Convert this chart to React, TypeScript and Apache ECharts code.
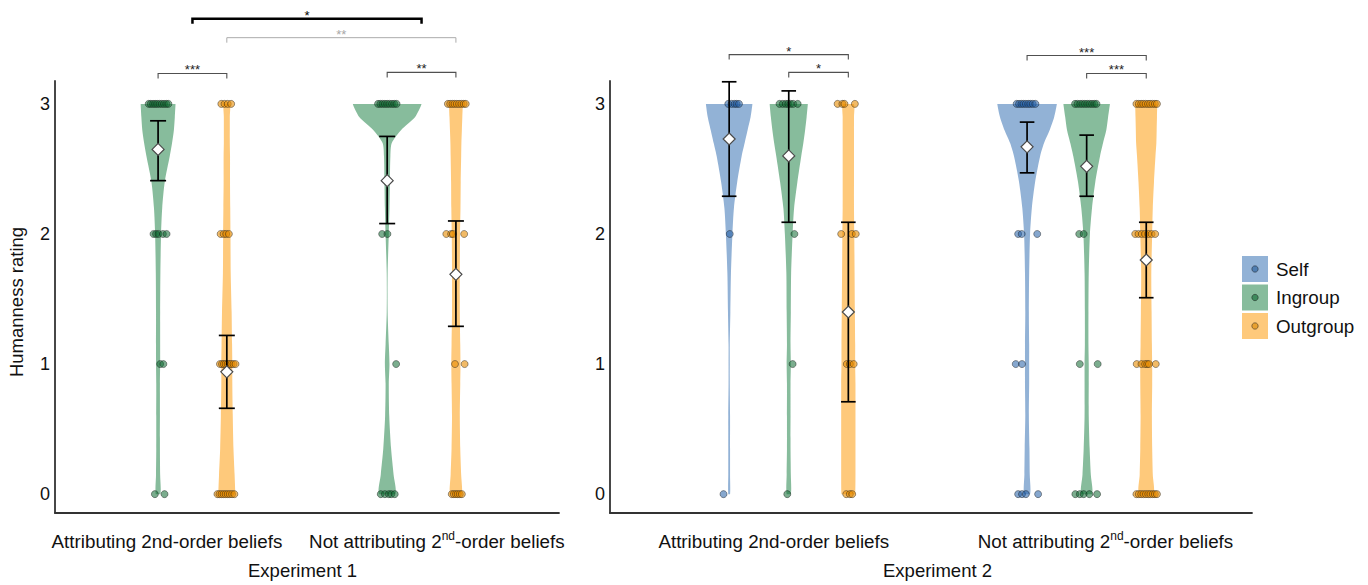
import React, { useEffect, useRef } from "react";
import * as echarts from "echarts";

const FONT = "'Liberation Sans', Arial, Helvetica, sans-serif";

// ---------- categories / labels ----------
const RATING_TICKS = [0, 1, 2, 3];
const CONDITIONS = ["Attributing 2nd-order beliefs", "Not attributing 2nd-order beliefs"];
const EXPERIMENTS = ["Experiment 1", "Experiment 2"];
const GROUPS = ["Self", "Ingroup", "Outgroup"];
const Y_TITLE = "Humanness rating";

// rating levels at which violin half-widths were read
const DENSITY_LEVELS = [0, 0.15, 0.35, 0.6, 0.85, 1, 1.15, 1.4, 1.7, 2, 2.2, 2.4, 2.6, 2.7, 2.8, 2.9, 3];

// ---------- Experiment 1: violin half-widths (x-axis units) ----------
const e1AttIngroupDensity = [0.010, 0.009, 0.008, 0.008, 0.008, 0.009, 0.009, 0.009, 0.010, 0.013, 0.018, 0.029, 0.051, 0.061, 0.069, 0.073, 0.076];
const e1AttOutgroupDensity = [0.037, 0.034, 0.029, 0.026, 0.024, 0.024, 0.023, 0.021, 0.017, 0.016, 0.015, 0.014, 0.014, 0.013, 0.013, 0.013, 0.013];
const e1NotIngroupDensity = [0.035, 0.028, 0.017, 0.009, 0.007, 0.010, 0.007, 0.002, 0.002, 0.007, 0.010, 0.012, 0.014, 0.020, 0.061, 0.122, 0.150];
const e1NotOutgroupDensity = [0.026, 0.023, 0.019, 0.017, 0.019, 0.020, 0.019, 0.017, 0.017, 0.018, 0.020, 0.021, 0.023, 0.024, 0.026, 0.028, 0.030];

// ---------- Experiment 2: violin half-widths ----------
const e2AttSelfDensity = [0.003, 0.003, 0.003, 0.003, 0.002, 0.002, 0.002, 0.004, 0.006, 0.011, 0.016, 0.027, 0.042, 0.052, 0.062, 0.072, 0.078];
const e2AttIngroupDensity = [0.007, 0.007, 0.006, 0.006, 0.006, 0.007, 0.006, 0.007, 0.008, 0.013, 0.018, 0.029, 0.042, 0.049, 0.055, 0.060, 0.064];
const e2AttOutgroupDensity = [0.023, 0.024, 0.024, 0.024, 0.024, 0.023, 0.023, 0.022, 0.021, 0.020, 0.019, 0.019, 0.019, 0.019, 0.019, 0.019, 0.018];
const e2NotSelfDensity = [0.010, 0.009, 0.008, 0.006, 0.007, 0.007, 0.007, 0.006, 0.007, 0.010, 0.016, 0.027, 0.044, 0.057, 0.076, 0.091, 0.100];
const e2NotIngroupDensity = [0.018, 0.014, 0.010, 0.007, 0.007, 0.007, 0.006, 0.006, 0.007, 0.011, 0.018, 0.029, 0.045, 0.055, 0.066, 0.072, 0.078];
const e2NotOutgroupDensity = [0.024, 0.022, 0.020, 0.019, 0.020, 0.020, 0.019, 0.018, 0.017, 0.020, 0.022, 0.026, 0.031, 0.034, 0.035, 0.036, 0.037];

// ---------- individual ratings: horizontal jitter per rating 0,1,2,3 ----------
const e1AttIngroupJitter = [
  [-0.014, 0.028],
  [0.009, 0.023],
  [-0.020, -0.009, 0.002, 0.021, 0.037],
  [-0.041, -0.032, -0.022, -0.013, -0.004, 0.006, 0.016, 0.026, 0.036, 0.045],
];
const e1AttOutgroupJitter = [
  [-0.041, -0.032, -0.023, -0.014, -0.005, 0.004, 0.013, 0.023, 0.033],
  [-0.030, -0.021, -0.013, -0.005, 0.004, 0.012, 0.020, 0.029, 0.038],
  [-0.027, -0.014, -0.003, 0.009],
  [-0.024, -0.010, 0.004, 0.019],
];
const e1NotIngroupJitter = [
  [-0.028, -0.010, 0.007, 0.018, 0.033],
  [0.039],
  [-0.022, 0.001],
  [-0.040, -0.030, -0.020, -0.010, 0.000, 0.010, 0.021, 0.031, 0.041],
];
const e1NotOutgroupJitter = [
  [-0.018, -0.009, 0.000, 0.008, 0.017, 0.026],
  [-0.004, 0.038],
  [-0.042, -0.021, -0.013, 0.036],
  [-0.035, -0.025, -0.015, -0.006, 0.004, 0.014, 0.024, 0.034, 0.043],
];
const e2AttSelfJitter = [[-0.019], [], [0.002], [-0.003, 0.008, 0.018, 0.025, 0.033]];
const e2AttIngroupJitter = [[-0.005], [0.013], [0.019], [-0.031, -0.020, -0.010, -0.002, 0.006, 0.015, 0.030]];
const e2AttOutgroupJitter = [[-0.007, 0.005, 0.013], [-0.005, 0.005, 0.018], [-0.024, 0.012, 0.025], [-0.036, -0.020, -0.013, 0.022]];
const e2NotSelfJitter = [
  [-0.030, -0.017, -0.004, 0.037],
  [-0.038, -0.017],
  [-0.030, -0.018, 0.034],
  [-0.035, -0.027, -0.019, -0.012, -0.004, 0.004, 0.011, 0.019, 0.028],
];
const e2NotIngroupJitter = [
  [-0.038, -0.023, -0.010, 0.009, 0.035],
  [-0.023, 0.037],
  [-0.025, -0.010],
  [-0.039, -0.031, -0.022, -0.014, -0.006, 0.002, 0.010, 0.018, 0.026, 0.033],
];
const e2NotOutgroupJitter = [
  [-0.033, -0.025, -0.017, -0.009, -0.001, 0.007, 0.014, 0.022, 0.029, 0.036],
  [-0.032, -0.016, -0.004, 0.003, 0.009, 0.032],
  [-0.037, -0.026, -0.015, -0.004, 0.007, 0.018, 0.030],
  [-0.033, -0.025, -0.017, -0.010, -0.002, 0.006, 0.013, 0.021, 0.029, 0.036],
];

// ---------- summary statistics: [mean, lower, upper] ----------
const e1AttIngroupStats = [2.65, 2.41, 2.87];
const e1AttOutgroupStats = [0.94, 0.66, 1.22];
const e1NotIngroupStats = [2.41, 2.08, 2.75];
const e1NotOutgroupStats = [1.69, 1.29, 2.1];
const e2AttSelfStats = [2.73, 2.29, 3.17];
const e2AttIngroupStats = [2.6, 2.09, 3.1];
const e2AttOutgroupStats = [1.4, 0.71, 2.09];
const e2NotSelfStats = [2.67, 2.47, 2.86];
const e2NotIngroupStats = [2.52, 2.29, 2.76];
const e2NotOutgroupStats = [1.8, 1.51, 2.09];

// ---------- significance brackets: [condA, groupA, condB, groupB, height, label, tone] ----------
const e1Brackets: any[] = [
  [0, "Ingroup", 0, "Outgroup", 3.234, "***", "dark"],
  [1, "Ingroup", 1, "Outgroup", 3.242, "**", "dark"],
  [0, null, 1, null, 3.655, "*", "strong"],
  [0, "Outgroup", 1, "Outgroup", 3.509, "**", "light"],
];
const e2Brackets: any[] = [
  [0, "Self", 0, "Outgroup", 3.379, "*", "dark"],
  [0, "Ingroup", 0, "Outgroup", 3.242, "*", "dark"],
  [1, "Self", 1, "Outgroup", 3.372, "***", "dark"],
  [1, "Ingroup", 1, "Outgroup", 3.234, "***", "dark"],
];

// ---------- styling ----------
const CONDITION_CENTERS = [1, 2];
const E1_OFFSETS: Record<string, number> = { Ingroup: -0.15, Outgroup: 0.15 };
const E2_OFFSETS: Record<string, number> = { Self: -0.2, Ingroup: 0, Outgroup: 0.2 };
const VIOLIN_COLORS: Record<string, string> = { Self: "#92b2d6", Ingroup: "#87bc9c", Outgroup: "#fec97b" };
const DOT_FILL: Record<string, string> = {
  Self: "rgba(35,95,165,0.55)",
  Ingroup: "rgba(15,105,50,0.55)",
  Outgroup: "rgba(232,140,0,0.6)",
};
const LEGEND_DOT: Record<string, string> = { Self: "#4f7db0", Ingroup: "#3e8a5c", Outgroup: "#e8a030" };
const BRACKET_TONES: Record<string, any> = {
  dark: { stroke: "#505050", width: 1.1, text: "#222" },
  strong: { stroke: "#000", width: 2.5, text: "#000" },
  light: { stroke: "#ababab", width: 1, text: "#a8a8a8" },
};
const AXIS_COLOR = "#333";
const TEXT_COLOR = "#111";

type Cell = { cond: number; group: string; density: number[]; jitter: number[][]; stats: number[] };

const e1Cells: Cell[] = [
  { cond: 0, group: "Ingroup", density: e1AttIngroupDensity, jitter: e1AttIngroupJitter, stats: e1AttIngroupStats },
  { cond: 0, group: "Outgroup", density: e1AttOutgroupDensity, jitter: e1AttOutgroupJitter, stats: e1AttOutgroupStats },
  { cond: 1, group: "Ingroup", density: e1NotIngroupDensity, jitter: e1NotIngroupJitter, stats: e1NotIngroupStats },
  { cond: 1, group: "Outgroup", density: e1NotOutgroupDensity, jitter: e1NotOutgroupJitter, stats: e1NotOutgroupStats },
];
const e2Cells: Cell[] = [
  { cond: 0, group: "Self", density: e2AttSelfDensity, jitter: e2AttSelfJitter, stats: e2AttSelfStats },
  { cond: 0, group: "Ingroup", density: e2AttIngroupDensity, jitter: e2AttIngroupJitter, stats: e2AttIngroupStats },
  { cond: 0, group: "Outgroup", density: e2AttOutgroupDensity, jitter: e2AttOutgroupJitter, stats: e2AttOutgroupStats },
  { cond: 1, group: "Self", density: e2NotSelfDensity, jitter: e2NotSelfJitter, stats: e2NotSelfStats },
  { cond: 1, group: "Ingroup", density: e2NotIngroupDensity, jitter: e2NotIngroupJitter, stats: e2NotIngroupStats },
  { cond: 1, group: "Outgroup", density: e2NotOutgroupDensity, jitter: e2NotOutgroupJitter, stats: e2NotOutgroupStats },
];

const X_MIN = 0.4;
const PANELS = [
  {
    cells: e1Cells, offsets: E1_OFFSETS, brackets: e1Brackets, groups: ["Ingroup", "Outgroup"],
    grid: { left: 55, top: 81, width: 504, height: 434 }, xMax: 2.6, whisker: 8,
    labelShiftPx: [-25.5, 15.3], namePad: [0, 9, 0, 0],
  },
  {
    cells: e2Cells, offsets: E2_OFFSETS, brackets: e2Brackets, groups: ["Self", "Ingroup", "Outgroup"],
    grid: { left: 610, top: 81, width: 642, height: 434 }, xMax: 2.555, whisker: 7.3,
    labelShiftPx: [-15, 18.8], namePad: [0, 0, 0, 13],
  },
];

function buildOption() {
  const series: any[] = [];
  PANELS.forEach((p, pi) => {
    const xOf = (cond: number, group: string | null) =>
      CONDITION_CENTERS[cond] + (group ? p.offsets[group] : 0);

    p.groups.forEach((g) => {
      const cells = p.cells.filter((c) => c.group === g);
      series.push({
        type: "custom",
        name: g,
        xAxisIndex: pi,
        yAxisIndex: pi,
        z: 1,
        silent: true,
        itemStyle: { color: VIOLIN_COLORS[g] },
        data: cells.map((c) => [xOf(c.cond, c.group), c.stats[0]]),
        renderItem: (params: any, api: any) => {
          const c = cells[params.dataIndex];
          const cx = xOf(c.cond, c.group);
          const right = DENSITY_LEVELS.map((lv, i) => api.coord([cx + c.density[i], lv]));
          const left = DENSITY_LEVELS.map((lv, i) => api.coord([cx - c.density[i], lv])).reverse();
          const pts = right.concat(left);
          return {
            type: "polygon",
            shape: { points: pts, smooth: 0.25, smoothConstraint: [pts[0], pts[0]] },
            style: { fill: VIOLIN_COLORS[g], stroke: null },
          };
        },
      });
      const dots: number[][] = [];
      cells.forEach((c) => {
        c.jitter.forEach((row, rating) => {
          row.forEach((j) => dots.push([xOf(c.cond, c.group) + j, RATING_TICKS[rating]]));
        });
      });
      series.push({
        type: "scatter",
        name: g + " ratings",
        xAxisIndex: pi,
        yAxisIndex: pi,
        z: 2,
        silent: true,
        symbol: "circle",
        symbolSize: 7,
        itemStyle: { color: DOT_FILL[g], borderColor: "rgba(20,20,20,0.6)", borderWidth: 0.7, opacity: 1 },
        data: dots,
      });
    });

    // mean diamonds with error bars
    series.push({
      type: "custom",
      name: "summary " + pi,
      xAxisIndex: pi,
      yAxisIndex: pi,
      z: 3,
      silent: true,
      data: p.cells.map((c) => [xOf(c.cond, c.group), c.stats[0], c.stats[1], c.stats[2]]),
      renderItem: (params: any, api: any) => {
        const x = api.value(0);
        const m = api.coord([x, api.value(1)]);
        const lo = api.coord([x, api.value(2)]);
        const hi = api.coord([x, api.value(3)]);
        const w = p.whisker;
        const d = 6;
        const ls = { stroke: "#000", lineWidth: 1.7 };
        return {
          type: "group",
          children: [
            { type: "line", shape: { x1: m[0], y1: hi[1], x2: m[0], y2: lo[1] }, style: ls },
            { type: "line", shape: { x1: m[0] - w, y1: hi[1], x2: m[0] + w, y2: hi[1] }, style: ls },
            { type: "line", shape: { x1: m[0] - w, y1: lo[1], x2: m[0] + w, y2: lo[1] }, style: ls },
            {
              type: "polygon",
              shape: { points: [[m[0], m[1] - d], [m[0] + d, m[1]], [m[0], m[1] + d], [m[0] - d, m[1]]] },
              style: { fill: "#fff", stroke: "#4a4a4a", lineWidth: 1.2 },
            },
          ],
        };
      },
    });

    // significance brackets
    series.push({
      type: "custom",
      name: "brackets " + pi,
      xAxisIndex: pi,
      yAxisIndex: pi,
      z: 4,
      silent: true,
      clip: false,
      data: p.brackets.map((b) => [xOf(b[0], b[1]), xOf(b[2], b[3]), b[4]]),
      renderItem: (params: any, api: any) => {
        const b = p.brackets[params.dataIndex];
        const tone = BRACKET_TONES[b[6]];
        const a = api.coord([api.value(0), api.value(2)]);
        const e = api.coord([api.value(1), api.value(2)]);
        const tick = 5;
        return {
          type: "group",
          children: [
            {
              type: "polyline",
              shape: { points: [[a[0], a[1] + tick], [a[0], a[1]], [e[0], e[1]], [e[0], e[1] + tick]] },
              style: { stroke: tone.stroke, lineWidth: tone.width, fill: null },
            },
            {
              type: "text",
              style: {
                text: b[5],
                x: (a[0] + e[0]) / 2,
                y: a[1] - 3.5,
                align: "center",
                verticalAlign: "middle",
                fontSize: 13,
                fontFamily: FONT,
                fill: tone.text,
              },
            },
          ],
        };
      },
    });
  });

  const xLabelRich = {
    a: { fontSize: 18.8, lineHeight: 22, fontFamily: FONT, color: TEXT_COLOR },
    s: { fontSize: 12, lineHeight: 15, fontFamily: FONT, color: TEXT_COLOR, verticalAlign: "top" },
  };
  const xLabelFormatter = (v: number) => {
    if (v < 1.5) return "{a|" + CONDITIONS[0] + "}";
    const parts = CONDITIONS[1].split("2nd");
    return "{a|" + parts[0] + "2}{s|nd}{a|" + parts[1] + "}";
  };

  return {
    animation: false,
    backgroundColor: "#fff",
    textStyle: { fontFamily: FONT },
    grid: PANELS.map((p) => ({ ...p.grid, containLabel: false })),
    legend: {
      data: GROUPS,
      orient: "vertical",
      left: 1242,
      top: 256,
      itemWidth: 26,
      itemHeight: 26,
      itemGap: 2.5,
      icon: "rect",
      padding: 0,
      selectedMode: false,
      textStyle: { fontSize: 18.8, fontFamily: FONT, color: TEXT_COLOR, padding: [0, 0, 0, 3] },
    },
    graphic: GROUPS.map((g, i) => ({
      type: "circle",
      silent: true,
      shape: { cx: 1255, cy: 269 + i * 28.5, r: 3.2 },
      style: { fill: LEGEND_DOT[g], stroke: "rgba(20,20,20,0.6)", lineWidth: 0.8 },
      z: 100,
    })),
    xAxis: PANELS.map((p, pi) => {
      const unitsPerPx = (p.xMax - X_MIN) / p.grid.width;
      return {
        gridIndex: pi,
        type: "value",
        min: X_MIN,
        max: p.xMax,
        name: EXPERIMENTS[pi],
        nameLocation: "middle",
        nameGap: 48,
        nameTextStyle: { fontSize: 18.5, fontFamily: FONT, color: TEXT_COLOR, padding: p.namePad },
        axisLine: { show: true, onZero: false, lineStyle: { color: AXIS_COLOR, width: 1.8 } },
        axisTick: { show: false },
        splitLine: { show: false },
        axisLabel: {
          customValues: CONDITION_CENTERS.map((c, i) => c + p.labelShiftPx[i] * unitsPerPx),
          margin: 17,
          hideOverlap: false,
          formatter: xLabelFormatter,
          rich: xLabelRich,
        },
      };
    }),
    yAxis: PANELS.map((p, pi) => ({
      gridIndex: pi,
      type: "value",
      min: -0.145,
      max: 3.176,
      name: pi === 0 ? Y_TITLE : "",
      nameLocation: "middle",
      nameGap: 29,
      nameTextStyle: { fontSize: 18.5, fontFamily: FONT, color: TEXT_COLOR, padding: [0, 10, 0, 0] },
      axisLine: { show: true, onZero: false, lineStyle: { color: AXIS_COLOR, width: 1.8 } },
      axisTick: { show: false },
      splitLine: { show: false },
      axisLabel: {
        customValues: RATING_TICKS,
        margin: 5,
        fontSize: 18,
        fontFamily: FONT,
        color: TEXT_COLOR,
      },
    })),
    series,
  };
}

export default function App() {
  const ref = useRef<HTMLDivElement>(null);
  useEffect(() => {
    document.body.style.margin = "0";
    const chart = echarts.init(ref.current as HTMLDivElement, undefined, { renderer: "svg" });
    chart.setOption(buildOption() as any);
    return () => chart.dispose();
  }, []);
  return <div ref={ref} style={{ width: 1368, height: 585 }} />;
}
